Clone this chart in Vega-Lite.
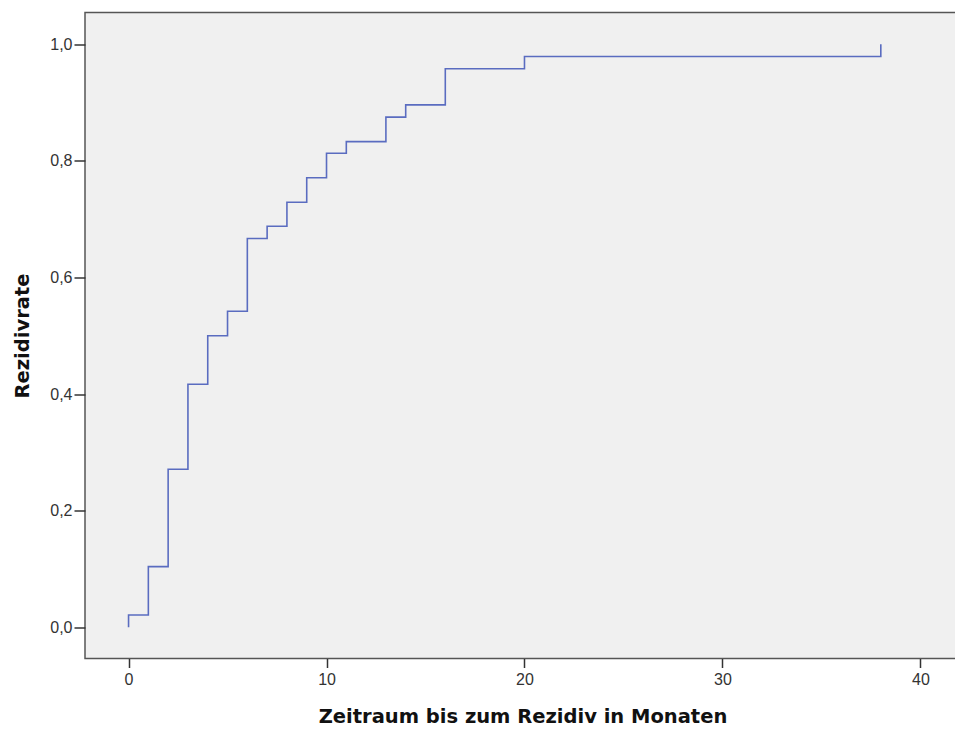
{
  "$schema": "https://vega.github.io/schema/vega-lite/v6.json",
  "width": 875,
  "height": 646,
  "autosize": {"type": "none"},
  "padding": {"left": 85, "top": 12.5, "right": 0, "bottom": 72},
  "background": "white",
  "config": {
    "view": {"fill": "#f0f0f0", "stroke": "#555555", "strokeWidth": 1.5},
    "axis": {
      "grid": false,
      "domain": false,
      "tickColor": "#333333",
      "tickWidth": 1.5,
      "labelFont": "Liberation Sans",
      "labelFontSize": 16,
      "labelColor": "#333333",
      "titleFont": "DejaVu Sans",
      "titleFontWeight": "bold",
      "titleFontSize": 19.5,
      "titleColor": "#111111"
    }
  },
  "data": {
    "values": [
      {"t": 0, "rate": 0.0},
      {"t": 0, "rate": 0.021},
      {"t": 1, "rate": 0.104},
      {"t": 2, "rate": 0.271},
      {"t": 3, "rate": 0.417},
      {"t": 4, "rate": 0.5},
      {"t": 5, "rate": 0.542},
      {"t": 6, "rate": 0.667},
      {"t": 7, "rate": 0.688},
      {"t": 8, "rate": 0.729},
      {"t": 9, "rate": 0.771},
      {"t": 10, "rate": 0.813},
      {"t": 11, "rate": 0.833},
      {"t": 13, "rate": 0.875},
      {"t": 14, "rate": 0.896},
      {"t": 16, "rate": 0.958},
      {"t": 20, "rate": 0.979},
      {"t": 38, "rate": 0.979},
      {"t": 38, "rate": 1.0}
    ]
  },
  "mark": {"type": "line", "interpolate": "step-after", "color": "#5a6cc0", "strokeWidth": 1.6, "clip": true},
  "encoding": {
    "x": {
      "field": "t",
      "type": "quantitative",
      "scale": {"domain": [-2.2, 42], "nice": false, "zero": false},
      "axis": {"values": [0, 10, 20, 30, 40], "title": "Zeitraum bis zum Rezidiv in Monaten", "tickSize": 9, "titlePadding": 20, "labelPadding": 4}
    },
    "y": {
      "field": "rate",
      "type": "quantitative",
      "scale": {"domain": [-0.0535, 1.0545], "nice": false, "zero": false},
      "axis": {
        "values": [0, 0.2, 0.4, 0.6, 0.8, 1.0],
        "labelExpr": "replace(format(datum.value, '.1f'), '.', ',')",
        "title": "Rezidivrate",
        "tickSize": 11,
        "titlePadding": 17,
        "labelPadding": 2
      }
    },
    "order": {"field": "t"}
  }
}
